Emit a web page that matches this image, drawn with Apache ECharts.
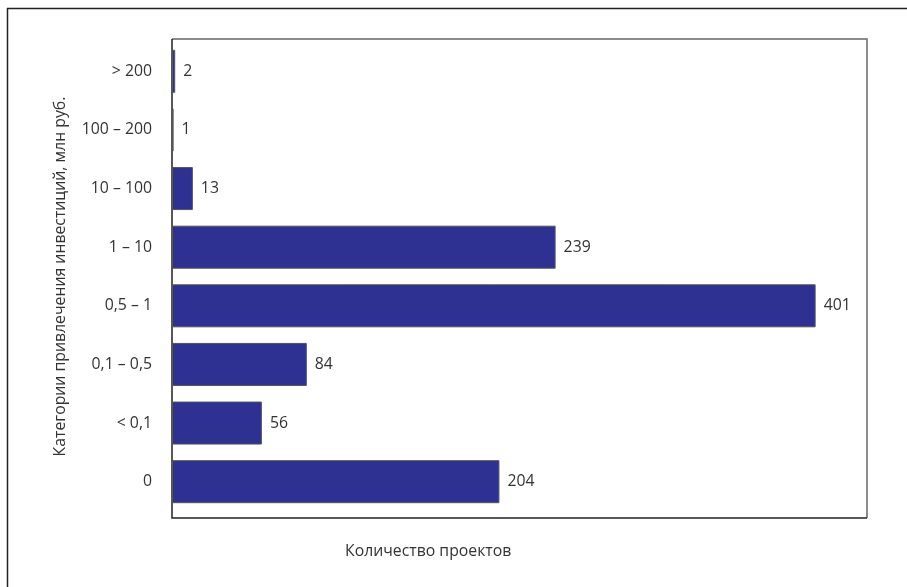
<!DOCTYPE html>
<html>
<head>
<meta charset="utf-8">
<script src="https://cdn.jsdelivr.net/npm/echarts@6/dist/echarts.min.js"></script>
<style>
html,body{margin:0;padding:0;background:#fff;}
#c{width:907px;height:587px;}
</style>
</head>
<body>
<div id="c"></div>
<script>
const categories = ['0', '< 0,1', '0,1 – 0,5', '0,5 – 1', '1 – 10', '10 – 100', '100 – 200', '> 200'];
const values = [204, 56, 84, 401, 239, 13, 1, 2];
const yAxisTitle = 'Категории привлечения инвестиций, млн руб.';
const xAxisTitle = 'Количество проектов';

const chart = echarts.init(document.getElementById('c'));
const font = '"Open Sans", "Noto Sans", sans-serif';
const fs = 15.8;
chart.setOption({
  animation: false,
  textStyle: {fontFamily: font},
  grid: {left: 172, top: 42, right: 40, bottom: 76, show: false, containLabel: false},
  xAxis: {
    type: 'value', min: 0, max: 433,
    axisLine: {show: false},
    axisTick: {show: false}, axisLabel: {show: false}, splitLine: {show: false}
  },
  yAxis: {
    type: 'category', data: categories,
    name: yAxisTitle, nameLocation: 'middle', nameGap: 104,
    nameTextStyle: {fontSize: fs, color: '#333', fontFamily: font},
    axisLine: {show: false},
    axisTick: {show: false},
    axisLabel: {fontSize: fs, color: '#333', margin: 20, fontFamily: font}
  },
  series: [{
    type: 'bar', data: values, barCategoryGap: '26.6%',
    itemStyle: {color: '#2E3192', borderColor: '#555', borderWidth: 1},
    label: {show: true, position: 'right', distance: 8, fontSize: fs, color: '#333', fontFamily: font}
  }],
  graphic: [
    {type: 'line', shape: {x1: 7.5, y1: 8, x2: 7.5, y2: 587}, style: {stroke: '#222', lineWidth: 1.5}},
    {type: 'line', shape: {x1: 7, y1: 8.5, x2: 907, y2: 8.5}, style: {stroke: '#222', lineWidth: 1.5}},
    {type: 'polyline', shape: {points: [[172, 39], [867, 39], [867, 518]]}, style: {stroke: '#666', lineWidth: 1.5, fill: null}},
    {type: 'polyline', shape: {points: [[172, 39], [172, 518], [867, 518]]}, style: {stroke: '#222', lineWidth: 1.5, fill: null}},
    {type: 'text', left: 345, top: 543, style: {text: xAxisTitle, fontSize: fs, fill: '#333', fontFamily: font}}
  ]
});
</script>
</body>
</html>
